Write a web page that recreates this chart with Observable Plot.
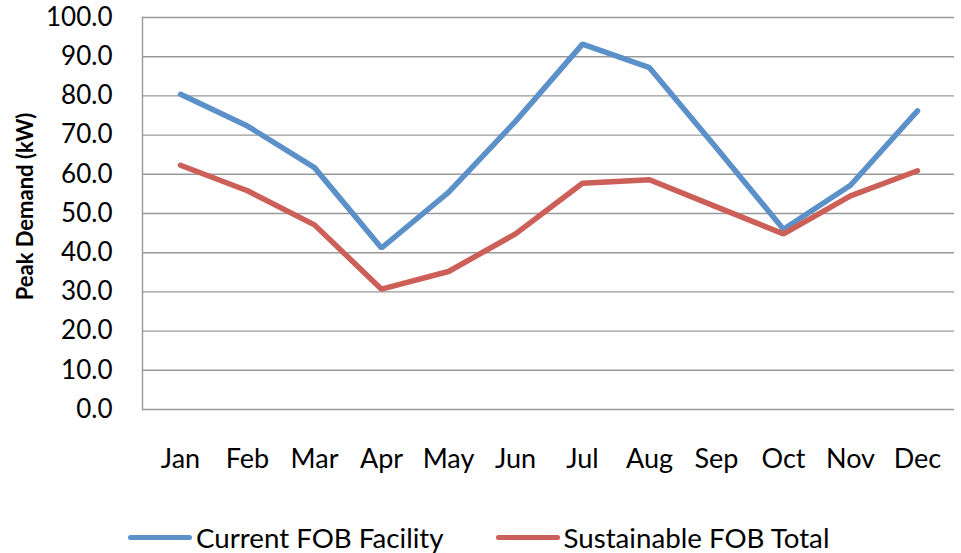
<!DOCTYPE html>
<html>
<head>
<meta charset="utf-8">
<script src="https://cdn.jsdelivr.net/npm/d3@7"></script>
<script src="https://cdn.jsdelivr.net/npm/@observablehq/plot@0.6"></script>
<style>
  html, body { margin: 0; padding: 0; background: #fff; }
  #wrap { position: relative; width: 961px; height: 553px; font-family: Lato, "Open Sans", sans-serif; }
  #legend { position: absolute; left: 128px; top: 521px; height: 32px; display: flex; align-items: center; font-size: 27.7px; color: #000; }
  .item { display: flex; align-items: center; }
  .sw { display: inline-block; width: 64px; height: 5px; border-radius: 3px; margin-right: 4px; }
</style>
</head>
<body>
<div id="wrap"></div>
<script>
const months = ["Jan","Feb","Mar","Apr","May","Jun","Jul","Aug","Sep","Oct","Nov","Dec"];
const currentFOB = [80.4, 72.3, 61.7, 41.2, 55.4, 73.5, 93.2, 87.2, 66.7, 46.0, 57.2, 76.2];
const sustainableFOB = [62.3, 55.8, 47.1, 30.7, 35.2, 44.8, 57.7, 58.6, 51.7, 44.8, 54.5, 60.9];
const seriesNames = ["Current FOB Facility", "Sustainable FOB Total"];
const seriesColors = ["#5b90c8", "#cc5f58"];
const yTicks = [0,10,20,30,40,50,60,70,80,90,100];

const data = [];
months.forEach((m, i) => {
  data.push({month: m, value: currentFOB[i], series: seriesNames[0]});
  data.push({month: m, value: sustainableFOB[i], series: seriesNames[1]});
});

const chart = Plot.plot({
  width: 961,
  height: 500,
  marginLeft: 142,
  marginRight: 7,
  marginTop: 17,
  marginBottom: 91,
  style: {fontFamily: "Lato, 'Open Sans', sans-serif", fontSize: "26px", color: "#000", background: "#fff"},
  x: {type: "point", domain: months, padding: 0.5, label: null},
  y: {domain: [0, 100], label: null},
  color: {domain: seriesNames, range: seriesColors},
  marks: [
    Plot.ruleY(yTicks, {stroke: "#999", strokeWidth: 1.4, strokeOpacity: 1}),
    Plot.frame({anchor: "left", stroke: "#999", strokeWidth: 1.4}),
    Plot.axisY(yTicks, {tickSize: 0, tickPadding: 30, tickFormat: d => d.toFixed(1), fontSize: 26, label: null}),
    Plot.axisX({tickSize: 0, tickPadding: 39, fontSize: 27, label: null}),
    Plot.line(data, {x: "month", y: "value", z: "series", stroke: "series", strokeWidth: 5.5, strokeLinejoin: "miter", strokeLinecap: "round"}),
    Plot.text(["Peak Demand (kW)"], {frameAnchor: "left", dx: -117, dy: -7, rotate: -90, textAnchor: "middle", fontWeight: "bold", fontSize: 22, fill: "#000"})
  ]
});

const wrap = document.getElementById("wrap");
wrap.appendChild(chart);

const legend = document.createElement("div");
legend.id = "legend";
seriesNames.forEach((n, i) => {
  const it = document.createElement("div");
  it.className = "item";
  if (i > 0) it.style.marginLeft = "52px";
  const sw = document.createElement("span");
  sw.className = "sw";
  sw.style.background = seriesColors[i];
  const t = document.createElement("span");
  t.textContent = n;
  it.appendChild(sw); it.appendChild(t);
  legend.appendChild(it);
});
wrap.appendChild(legend);
</script>
</body>
</html>
